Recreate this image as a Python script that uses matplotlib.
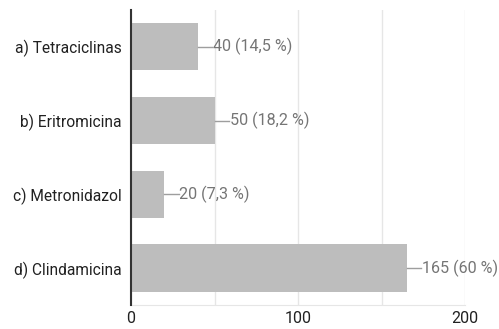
import numpy as np
import matplotlib.pyplot as plt

categories = ["a) Tetraciclinas", "b) Eritromicina", "c) Metronidazol", "d) Clindamicina"]
counts = [40, 50, 20, 165]
percents = ["14,5 %", "18,2 %", "7,3 %", "60 %"]
x_ticks = [0, 100, 200]

plt.rcParams['font.family'] = ['Roboto', 'DejaVu Sans']

fig = plt.figure(figsize=(4.99, 3.29), dpi=100)
ax = fig.add_axes([0.2625, 0.073, 0.6695, 0.897])

y = np.arange(len(categories))
ax.barh(y, counts, height=0.64, color="#bdbdbd", zorder=2)

# value labels with a short leader line
for yi, c, p in zip(y, counts, percents):
    ax.plot([c, c + 8.5], [yi, yi], color="#9e9e9e", lw=1, zorder=3)
    ax.text(c + 9, yi, f"{c} ({p})", va="center", ha="left",
            fontsize=11.6, color="#757575")

ax.set_xlim(0, 200)
ax.set_ylim(len(categories) - 0.5, -0.5)
ax.set_yticks(y)
ax.set_yticklabels(categories, fontsize=11.2, color="#212121")
ax.set_xticks(x_ticks)
ax.set_xticklabels([str(t) for t in x_ticks], fontsize=11.5, color="#212121")
ax.set_xticks([50, 150], minor=True)

ax.grid(True, axis="x", which="both", color="#e6e6e6", lw=1, zorder=0)
ax.tick_params(axis="both", which="both", length=0)
ax.tick_params(axis="x", pad=4)
ax.tick_params(axis="y", pad=7)

for s in ["top", "right"]:
    ax.spines[s].set_visible(False)
ax.spines["bottom"].set_color("#e6e6e6")
ax.spines["left"].set_color("#333333")
ax.spines["left"].set_linewidth(1.5)
ax.spines["left"].set_zorder(4)

fig.savefig("out.png", dpi=100)
